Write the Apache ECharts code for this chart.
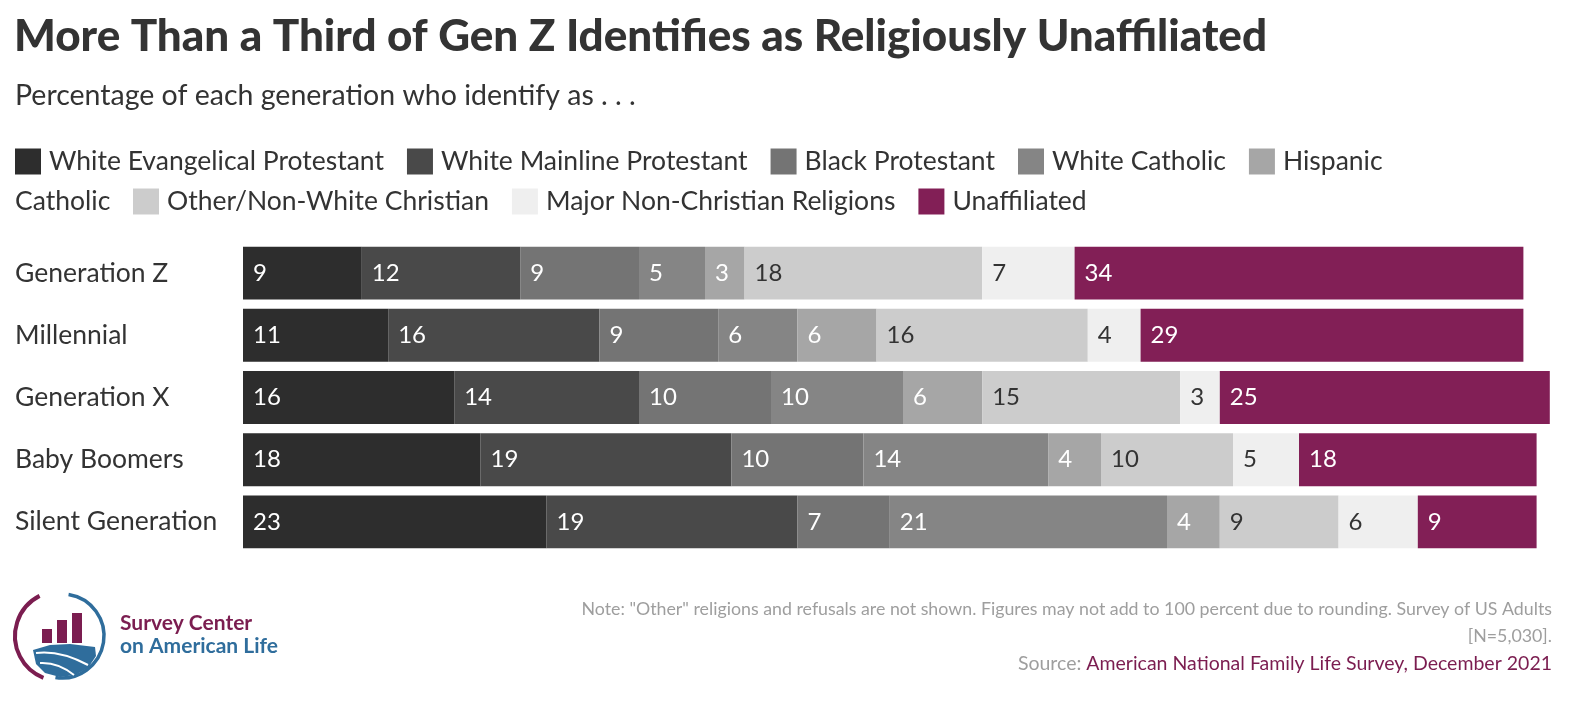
<!DOCTYPE html>
<html><head><meta charset="utf-8">
<script src="https://cdn.jsdelivr.net/npm/echarts@6/dist/echarts.min.js"></script>
<style>html,body{margin:0;padding:0;background:#fff}#c{width:1570px;height:702px}</style>
</head><body><div id="c"></div>
<script>
const categories = ['Generation Z','Millennial','Generation X','Baby Boomers','Silent Generation'];
const seriesNames = ['White Evangelical Protestant','White Mainline Protestant','Black Protestant','White Catholic','Hispanic Catholic','Other/Non-White Christian','Major Non-Christian Religions','Unaffiliated'];
const whiteEvangelical = [9,11,16,18,23];
const whiteMainline = [12,16,14,19,19];
const blackProtestant = [9,9,10,10,7];
const whiteCatholic = [5,6,10,14,21];
const hispanicCatholic = [3,6,6,4,4];
const otherChristian = [18,16,15,10,9];
const nonChristian = [7,4,3,5,6];
const unaffiliated = [34,29,25,18,9];

const values = [whiteEvangelical,whiteMainline,blackProtestant,whiteCatholic,hispanicCatholic,otherChristian,nonChristian,unaffiliated];
const colors = ['#2d2d2d','#494949','#747474','#858585','#a6a6a6','#cccccc','#efefef','#821f56'];
const labelColors = ['#fff','#fff','#fff','#fff','#fff','#333','#333','#fff'];
const FONT = 'Lato, "Open Sans", sans-serif';

const chart = echarts.init(document.getElementById('c'));
const series = seriesNames.map((n,i)=>({
  name:n, type:'bar', stack:'all', barCategoryGap:'15%',
  data: values[i].slice().reverse(),
  itemStyle:{color:colors[i]},
  label:{show:true, position:'insideLeft', distance:10, color:labelColors[i], fontSize:24, fontFamily:FONT},
  emphasis:{disabled:true}
}));
const legendBase = {
  orient:'horizontal', icon:'rect', itemWidth:26, itemHeight:26, itemGap:23, padding:0,
  textStyle:{fontSize:26.5, color:'#333', fontFamily:FONT, padding:[0,0,0,3]},
  selectedMode:false
};
chart.setOption({
  animation:false,
  title:[
    {text:'More Than a Third of Gen Z Identifies as Religiously Unaffiliated', left:9, top:10,
     textStyle:{fontSize:44, fontWeight:900, color:'#333', fontFamily:FONT}},
    {text:'Percentage of each generation who identify as . . .', left:10, top:76,
     textStyle:{fontSize:28.5, fontWeight:'normal', color:'#333', fontFamily:FONT}}
  ],
  legend:[
    Object.assign({}, legendBase, {left:15, top:148, data:seriesNames.slice(0,5),
      formatter:n=> n==='Hispanic Catholic' ? 'Hispanic' : n}),
    Object.assign({}, legendBase, {left:133, top:188, data:seriesNames.slice(5)})
  ],
  grid:{left:243, right:7, top:242, bottom:149},
  xAxis:{type:'value', min:0, max:100, show:false},
  yAxis:{type:'category', data:categories.slice().reverse(), axisLine:{show:false}, axisTick:{show:false},
    axisLabel:{align:'left', margin:228, fontSize:26.5, color:'#333', fontFamily:FONT}},
  series:series,
  graphic:[
    {type:'text', left:15, top:188, style:{text:'Catholic', fontSize:26.5, fill:'#333', fontFamily:FONT}},
    {type:'text', right:18, top:600, style:{text:'Note: "Other" religions and refusals are not shown. Figures may not add to 100 percent due to rounding. Survey of US Adults', fontSize:17.8, fill:'#9e9e9e', fontFamily:FONT}},
    {type:'text', right:18, top:627, style:{text:'[N=5,030].', fontSize:17.8, fill:'#9e9e9e', fontFamily:FONT}},
    {type:'text', right:18, top:654, style:{text:'{a|Source: }{b|American National Family Life Survey, December 2021}', fontSize:19.5, fontFamily:FONT,
      rich:{a:{fill:'#9e9e9e', fontSize:19.5, fontFamily:FONT}, b:{fill:'#7b1d50', fontSize:19.5, fontFamily:FONT}}}},
    {type:'arc', shape:{cx:60, cy:636, r:45, startAngle:Math.PI*1.35, endAngle:Math.PI*0.62, clockwise:false}, style:{stroke:'#7b1d50', lineWidth:4, fill:null}},
    {type:'arc', shape:{cx:62, cy:636, r:42, startAngle:Math.PI*1.55, endAngle:Math.PI*0.55, clockwise:true}, style:{stroke:'#2f6d9c', lineWidth:3.5, fill:null}},
    {type:'rect', shape:{x:42, y:629, width:10, height:14}, style:{fill:'#7b1d50'}},
    {type:'rect', shape:{x:57, y:620, width:10, height:23}, style:{fill:'#7b1d50'}},
    {type:'rect', shape:{x:72, y:613, width:10, height:30}, style:{fill:'#7b1d50'}},
    {type:'polygon', shape:{points:[[33,650],[50,645],[70,644],[95,647],[96,656],[88,668],[75,675],[60,677],[45,673],[36,664]]}, style:{fill:'#2f6d9c'}},
    {type:'bezierCurve', shape:{x1:36,y1:653,cpx1:60,cpy1:650,x2:88,y2:665}, style:{stroke:'#fff', lineWidth:2, fill:null}},
    {type:'bezierCurve', shape:{x1:40,y1:663,cpx1:58,cpy1:662,x2:74,y2:675}, style:{stroke:'#fff', lineWidth:2, fill:null}},
    {type:'text', x:120, y:613, style:{text:'Survey Center', fontSize:21, fontWeight:'bold', fill:'#7b1d50', fontFamily:FONT}},
    {type:'text', x:120, y:636, style:{text:'on American Life', fontSize:21, fontWeight:'bold', fill:'#2f6d9c', fontFamily:FONT}}
  ]
});
</script></body></html>
